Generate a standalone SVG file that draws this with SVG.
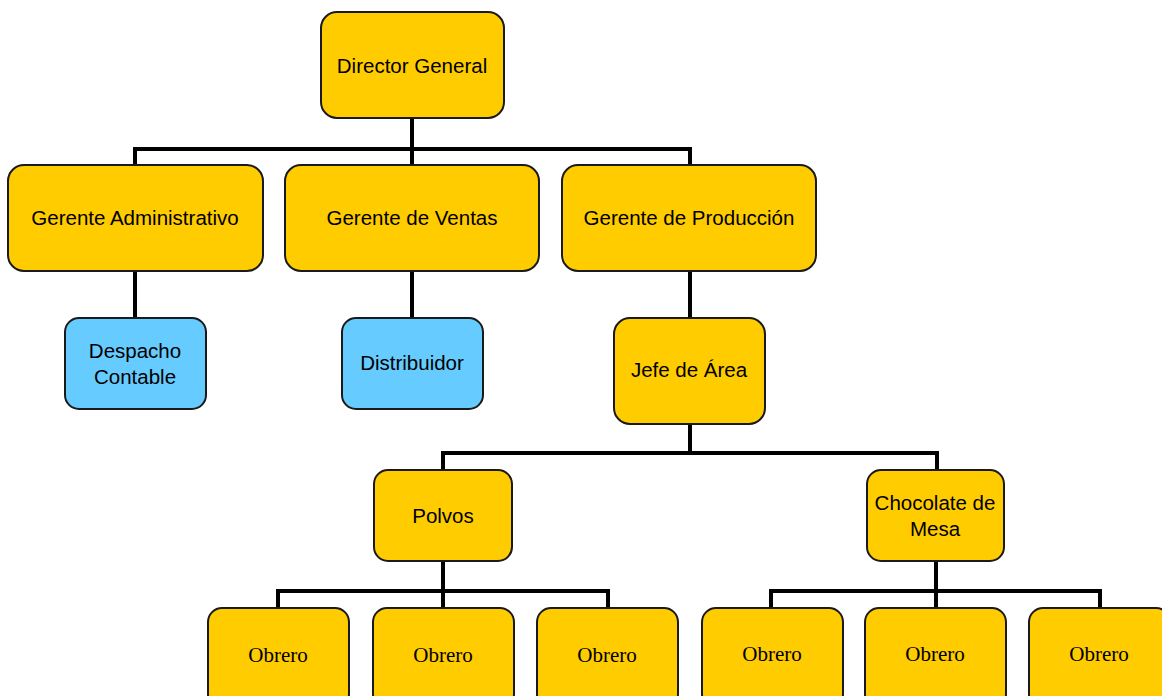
<svg xmlns="http://www.w3.org/2000/svg" width="1162" height="696" viewBox="0 0 1162 696">
<style>
.n{fill:#FFCC00;stroke:#1a1a1a;stroke-width:2}
.b{fill:#66CCFF;stroke:#1a1a1a;stroke-width:2}
.t{font-family:"Liberation Sans",Arial,sans-serif;font-size:20.5px;fill:#000;text-anchor:middle}
.s{font-family:"Liberation Serif","Times New Roman",serif;font-size:21px;fill:#000;text-anchor:middle}
.c{fill:none;stroke:#000;stroke-width:4}
</style>
<rect width="1162" height="696" fill="#fff"/>
<g id="connectors">
<path class="c" d="M412 118V165M135 165V149H690V165"/>
<path class="c" d="M135 271V318"/>
<path class="c" d="M412 271V318"/>
<path class="c" d="M690 271V318"/>
<path class="c" d="M690 424V453M443 470V453H937V470"/>
<path class="c" d="M443 561V608M278 608V591H608V608"/>
<path class="c" d="M936 561V608M771 608V591H1100V608"/>
</g>
<g id="director"><rect class="n" x="321" y="12" width="183" height="106" rx="16"/><text class="t" x="412" y="73">Director General</text></g>
<g id="gerente-admin"><rect class="n" x="8" y="165" width="255" height="106" rx="16"/><text class="t" x="135" y="225">Gerente Administrativo</text></g>
<g id="gerente-ventas"><rect class="n" x="285" y="165" width="254" height="106" rx="16"/><text class="t" x="412" y="225">Gerente de Ventas</text></g>
<g id="gerente-produccion"><rect class="n" x="562" y="165" width="254" height="106" rx="16"/><text class="t" x="689" y="225">Gerente de Producción</text></g>
<g id="despacho"><rect class="b" x="65" y="318" width="141" height="91" rx="14"/><text class="t" x="135" y="358">Despacho</text><text class="t" x="135" y="384">Contable</text></g>
<g id="distribuidor"><rect class="b" x="342" y="318" width="141" height="91" rx="14"/><text class="t" x="412" y="370">Distribuidor</text></g>
<g id="jefe-area"><rect class="n" x="614" y="318" width="151" height="106" rx="16"/><text class="t" x="689" y="377">Jefe de Área</text></g>
<g id="polvos"><rect class="n" x="374" y="470" width="138" height="91" rx="14"/><text class="t" x="443" y="523">Polvos</text></g>
<g id="chocolate"><rect class="n" x="867" y="470" width="137" height="91" rx="14"/><text class="t" x="935" y="510">Chocolate de</text><text class="t" x="935" y="536">Mesa</text></g>
<g id="obrero1"><rect class="n" x="208" y="608" width="141" height="100" rx="14"/><text class="s" x="278" y="662">Obrero</text></g>
<g id="obrero2"><rect class="n" x="373" y="608" width="141" height="100" rx="14"/><text class="s" x="443" y="662">Obrero</text></g>
<g id="obrero3"><rect class="n" x="537" y="608" width="141" height="100" rx="14"/><text class="s" x="607" y="662">Obrero</text></g>
<g id="obrero4"><rect class="n" x="702" y="608" width="141" height="100" rx="14"/><text class="s" x="772" y="661">Obrero</text></g>
<g id="obrero5"><rect class="n" x="865" y="608" width="141" height="100" rx="14"/><text class="s" x="935" y="661">Obrero</text></g>
<g id="obrero6"><rect class="n" x="1029" y="608" width="141" height="100" rx="14"/><text class="s" x="1099" y="661">Obrero</text></g>
</svg>
